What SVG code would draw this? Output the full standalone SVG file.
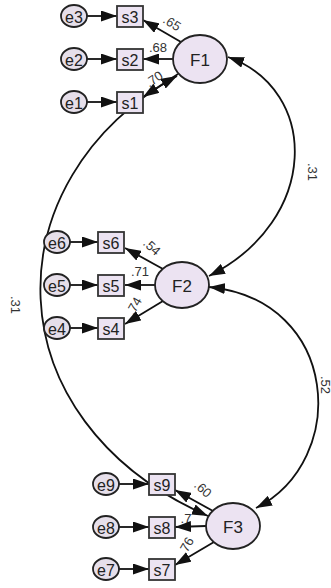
<svg xmlns="http://www.w3.org/2000/svg" width="331" height="588" viewBox="0 0 331 588">
<defs>
<marker id="ah" viewBox="0 0 16 11" refX="16" refY="5.5" markerWidth="16" markerHeight="11" markerUnits="userSpaceOnUse" orient="auto-start-reverse">
<path d="M0,0 L16,5.5 L0,11 z" fill="#111"/>
</marker>
<style>
.lat{fill:#ece3f2;stroke:#222;stroke-width:1.8}
.obs{fill:#ece3f2;stroke:#333;stroke-width:1.8}
.err{fill:#e6dfea;stroke:#222;stroke-width:1.8}
.t{font-family:"Liberation Sans",Arial,sans-serif;fill:#222;text-anchor:middle;dominant-baseline:central}
.big{font-size:17px}
.mid{font-size:16px}
.lab{font-family:"Liberation Sans",Arial,sans-serif;fill:#333;font-size:13px;text-anchor:middle;dominant-baseline:central}
.c{fill:none;stroke:#111;stroke-width:1.8;marker-end:url(#ah)}
.cc{fill:none;stroke:#111;stroke-width:1.8;marker-start:url(#ah);marker-end:url(#ah)}
</style>
</defs>
<rect width="331" height="588" fill="#fff"/>
<g id="labels">
<text class="lab" transform="translate(172,23) rotate(32)">.65</text>
<text class="lab" x="158" y="47">.68</text>
<text class="lab" transform="translate(154,79) rotate(-35)">.70</text>
<text class="lab" transform="translate(152,247) rotate(42)">.54</text>
<text class="lab" x="140" y="271">.71</text>
<text class="lab" transform="translate(134,306) rotate(-60)">.74</text>
<text class="lab" transform="translate(203,489) rotate(42)">.60</text>
<text class="lab" x="186" y="518">.7</text>
<text class="lab" transform="translate(186,546) rotate(-60)">.76</text>
<text class="lab" transform="translate(312,172) rotate(90)">.31</text>
<text class="lab" transform="translate(15,305) rotate(90)">.31</text>
<text class="lab" transform="translate(325,385) rotate(90)">.52</text>
</g>
<g id="connectors">
<line class="c" x1="87" y1="16" x2="117" y2="16"/>
<line class="c" x1="87" y1="59" x2="117" y2="59"/>
<line class="c" x1="87" y1="102" x2="117" y2="102"/>
<line class="c" x1="181" y1="42" x2="143" y2="20"/>
<line class="c" x1="173" y1="59" x2="143" y2="59"/>
<line class="c" x1="178" y1="74" x2="143" y2="97"/>
<line class="c" x1="70" y1="242" x2="98" y2="242"/>
<line class="c" x1="70" y1="285" x2="98" y2="285"/>
<line class="c" x1="70" y1="328" x2="98" y2="328"/>
<line class="c" x1="163" y1="269" x2="125" y2="248"/>
<line class="c" x1="155" y1="285" x2="125" y2="285"/>
<line class="c" x1="163" y1="301" x2="125" y2="324"/>
<line class="c" x1="119" y1="484" x2="149" y2="484"/>
<line class="c" x1="119" y1="527" x2="149" y2="527"/>
<line class="c" x1="119" y1="569" x2="149" y2="569"/>
<line class="c" x1="213" y1="511" x2="175" y2="490"/>
<line class="c" x1="206" y1="526" x2="175" y2="527"/>
<line class="c" x1="214" y1="542" x2="175" y2="565"/>
<path class="cc" d="M228,57 C320,90 320,220 209,276"/>
<path class="cc" d="M209,287 C340,300 350,460 256,508"/>
<path class="cc" d="M177,76 C-10,180 -10,420 208,516"/>
</g>
<g id="F1"><ellipse class="lat" cx="200" cy="59" rx="27" ry="24"/><text class="t big" x="200" y="60">F1</text></g>
<g id="F2"><ellipse class="lat" cx="182" cy="285" rx="27" ry="23"/><text class="t big" x="182" y="286">F2</text></g>
<g id="F3"><ellipse class="lat" cx="233" cy="526" rx="27" ry="23"/><text class="t big" x="233" y="527">F3</text></g>
<g id="s3"><rect class="obs" x="117" y="6" width="26" height="21"/><text class="t mid" x="130" y="17">s3</text></g>
<g id="s2"><rect class="obs" x="117" y="49" width="26" height="21"/><text class="t mid" x="130" y="60">s2</text></g>
<g id="s1"><rect class="obs" x="117" y="92" width="26" height="21"/><text class="t mid" x="130" y="103">s1</text></g>
<g id="s6"><rect class="obs" x="98" y="232" width="26" height="21"/><text class="t mid" x="111" y="243">s6</text></g>
<g id="s5"><rect class="obs" x="98" y="275" width="26" height="21"/><text class="t mid" x="111" y="286">s5</text></g>
<g id="s4"><rect class="obs" x="98" y="318" width="26" height="21"/><text class="t mid" x="111" y="329">s4</text></g>
<g id="s9"><rect class="obs" x="149" y="474" width="26" height="21"/><text class="t mid" x="162" y="485">s9</text></g>
<g id="s8"><rect class="obs" x="149" y="517" width="26" height="21"/><text class="t mid" x="162" y="528">s8</text></g>
<g id="s7"><rect class="obs" x="149" y="559" width="26" height="21"/><text class="t mid" x="162" y="570">s7</text></g>
<g id="e3"><ellipse class="err" cx="74" cy="16" rx="13" ry="11"/><text class="t mid" x="74" y="17">e3</text></g>
<g id="e2"><ellipse class="err" cx="74" cy="59" rx="13" ry="11"/><text class="t mid" x="74" y="60">e2</text></g>
<g id="e1"><ellipse class="err" cx="74" cy="102" rx="13" ry="11"/><text class="t mid" x="74" y="103">e1</text></g>
<g id="e6"><ellipse class="err" cx="57" cy="242" rx="13" ry="11"/><text class="t mid" x="57" y="243">e6</text></g>
<g id="e5"><ellipse class="err" cx="57" cy="285" rx="13" ry="11"/><text class="t mid" x="57" y="286">e5</text></g>
<g id="e4"><ellipse class="err" cx="57" cy="328" rx="13" ry="11"/><text class="t mid" x="57" y="329">e4</text></g>
<g id="e9"><ellipse class="err" cx="106" cy="484" rx="13" ry="11"/><text class="t mid" x="106" y="485">e9</text></g>
<g id="e8"><ellipse class="err" cx="106" cy="527" rx="13" ry="11"/><text class="t mid" x="106" y="528">e8</text></g>
<g id="e7"><ellipse class="err" cx="106" cy="569" rx="13" ry="11"/><text class="t mid" x="106" y="570">e7</text></g>
</svg>
